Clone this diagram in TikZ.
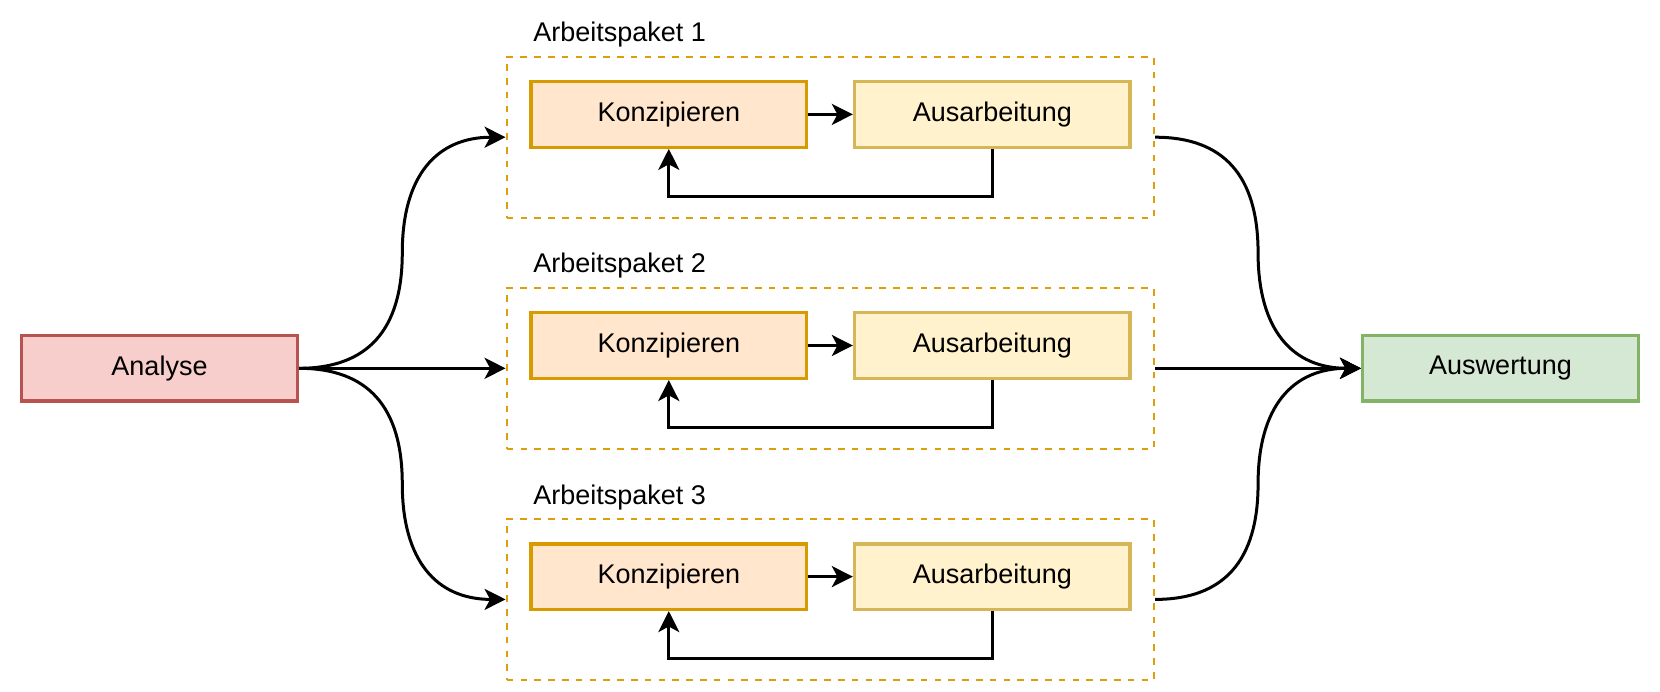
\documentclass[tikz,border=0pt]{standalone}
\usepackage{fontspec}
\setmainfont{Liberation Sans}
\usetikzlibrary{arrows.meta,calc}
\definecolor{anaF}{HTML}{F8CECC}
\definecolor{anaD}{HTML}{B85450}
\definecolor{ausF}{HTML}{D5E8D4}
\definecolor{ausD}{HTML}{82B366}
\definecolor{konF}{HTML}{FFE6CC}
\definecolor{konD}{HTML}{D79B00}
\definecolor{arbF}{HTML}{FFF2CC}
\definecolor{arbD}{HTML}{D6B656}
\definecolor{grpD}{HTML}{DB9F08}
\newcommand\mysCurve[3]{%
  \coordinate (m#3) at ($(#1)!0.5!(#2)$);
  \coordinate (ca#3) at ($(#1)!2/3!(#1 -| m#3)$);
  \coordinate (cb#3) at ($(m#3)!2/3!(m#3 |- #1)$);
  \coordinate (cc#3) at ($(m#3)!2/3!(m#3 |- #2)$);
  \coordinate (cd#3) at ($(#2)!2/3!(#2 -| m#3)$);
  \draw[conn] (#1) .. controls (ca#3) and (cb#3) .. (m#3) .. controls (cc#3) and (cd#3) .. (#2);
}
\begin{document}
\begin{tikzpicture}[x=0.5pt,y=-0.5pt,
  txt/.style={font=\fontsize{13.5}{16}\selectfont},
  box/.style={draw, line width=1.7pt, minimum width=137.8pt, minimum height=32.8pt, inner sep=0pt, txt},
  grp/.style={draw=grpD, line width=1.2pt, dash pattern=on 3.3pt off 3.6pt, minimum width=323.6pt, minimum height=80.5pt, inner sep=0pt},
  conn/.style={line width=1.5pt, -{Stealth[length=10.5pt,width=10.5pt,inset=2.8pt]}},
  lbl/.style={anchor=base west, inner sep=0pt, txt}]
\useasboundingbox (0,0) rectangle (1660,691);
\node[box, fill=anaF, draw=anaD] (ana) at (159.5,368.3) {Analyse};
\node[box, fill=ausF, draw=ausD] (aus) at (1500.5,368.3) {Auswertung};
\foreach \i/\y in {1/137.2,2/368.3,3/599.4} {
  \node[grp] (g\i) at (830.35,\y) {};
  \node[lbl] (l\i) at ($(g\i.north west)+(27.3,-13.7)$) {Arbeitspaket \i};
  \node[box, fill=konF, draw=konD] (k\i) at ($(g\i.center)+(-161.55,-22.8)$) {Konzipieren};
  \node[box, fill=arbF, draw=arbD] (a\i) at ($(g\i.center)+(162,-22.8)$) {Ausarbeitung};
  \draw[conn] (k\i.east) -- (a\i.west);
  \draw[conn] (a\i.south) -- ++(0,47.5) -| (k\i.south);
}
\mysCurve{ana.east}{g1.west}{A}
\mysCurve{ana.east}{g3.west}{B}
\mysCurve{g1.east}{aus.west}{C}
\mysCurve{g3.east}{aus.west}{D}
\draw[conn] (ana.east) -- (g2.west);
\draw[conn] (g2.east) -- (aus.west);
\end{tikzpicture}
\end{document}
